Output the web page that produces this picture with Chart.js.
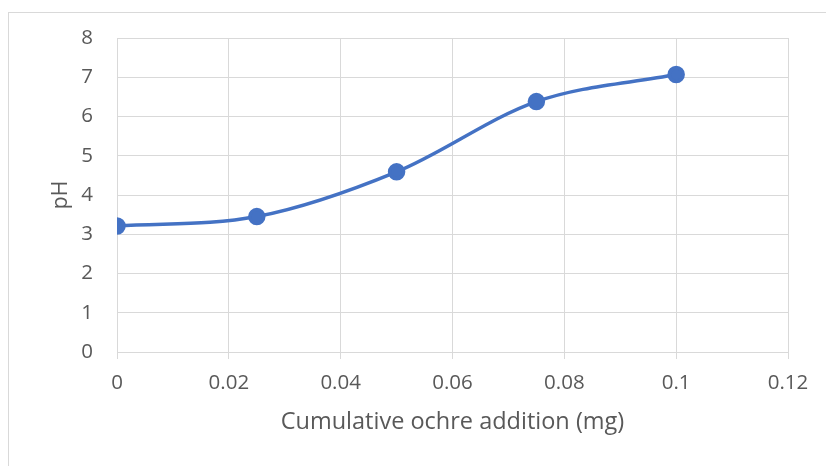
<!DOCTYPE html>
<html>
<head>
<meta charset="utf-8">
<script src="https://cdn.jsdelivr.net/npm/chart.js@4"></script>
<style>
  body { margin: 0; background: #fff; }
  #wrap { position: relative; width: 826px; height: 466px; overflow: hidden; }
  #frame { position: absolute; left: 8px; top: 12px; width: 840px; height: 480px; border: 1px solid #d9d9d9; }
  canvas { position: absolute; left: 0; top: 0; }
</style>
</head>
<body>
<div id="wrap">
  <div id="frame"></div>
  <canvas id="phChart" width="826" height="466"></canvas>
</div>
<script>
var ochreAdded = [0, 0.025, 0.05, 0.075, 0.1];
var phValues = [3.21, 3.45, 4.59, 6.38, 7.07];
var xTicks = [0, 0.02, 0.04, 0.06, 0.08, 0.1, 0.12];
var yTicks = [0, 1, 2, 3, 4, 5, 6, 7, 8];

window.addEventListener("load", function () {
    var points = ochreAdded.map((x, i) => ({ x: x, y: phValues[i] }));
    var blue = '#4472C4';
    var grid = '#d9d9d9';
    var textColor = '#595959';

    var config = {
        type: 'scatter',
        data: {
            datasets: [{
                label: 'pH',
                data: points,
                showLine: true,
                borderColor: blue,
                backgroundColor: blue,
                borderWidth: 3.5,
                pointRadius: 7,
                pointHoverRadius: 7,
                tension: 0.4,
                cubicInterpolationMode: 'monotone'
            }]
        },
        options: {
            responsive: false,
            animation: false,
            layout: { padding: { left: 40, right: 38, top: 38, bottom: 30 } },
            plugins: {
                legend: { display: false },
                tooltip: { enabled: false }
            },
            scales: {
                x: {
                    type: 'linear',
                    min: 0,
                    max: 0.12,
                    afterBuildTicks: function (scale) {
                        scale.ticks = xTicks.map(v => ({ value: v }));
                    },
                    afterFit: function (scale) { scale.height = 84; },
                    grid: { color: grid, tickLength: 7, drawTicks: true },
                    border: { color: grid },
                    ticks: {
                        color: textColor,
                        font: { family: 'Open Sans', size: 20.5 },
                        padding: 12,
                        maxRotation: 0,
                        callback: v => String(+v.toFixed(2))
                    },
                    title: {
                        display: true,
                        text: 'Cumulative ochre addition (mg)',
                        color: textColor,
                        font: { family: 'Open Sans', size: 23.5 },
                        padding: { top: 4, bottom: 0 }
                    }
                },
                y: {
                    min: 0,
                    max: 8,
                    afterBuildTicks: function (scale) {
                        scale.ticks = yTicks.map(v => ({ value: v }));
                    },
                    afterFit: function (scale) { scale.width = 77; },
                    grid: { color: grid, drawTicks: false },
                    border: { color: grid },
                    ticks: {
                        color: textColor,
                        font: { family: 'Open Sans', size: 20.5 },
                        padding: 24
                    },
                    title: {
                        display: true,
                        text: 'pH',
                        color: textColor,
                        font: { family: 'Open Sans', size: 21 },
                        padding: { top: 8, bottom: 0 }
                    }
                }
            }
        }
    };

    new Chart(document.getElementById('phChart'), config);
});
</script>
</body>
</html>
